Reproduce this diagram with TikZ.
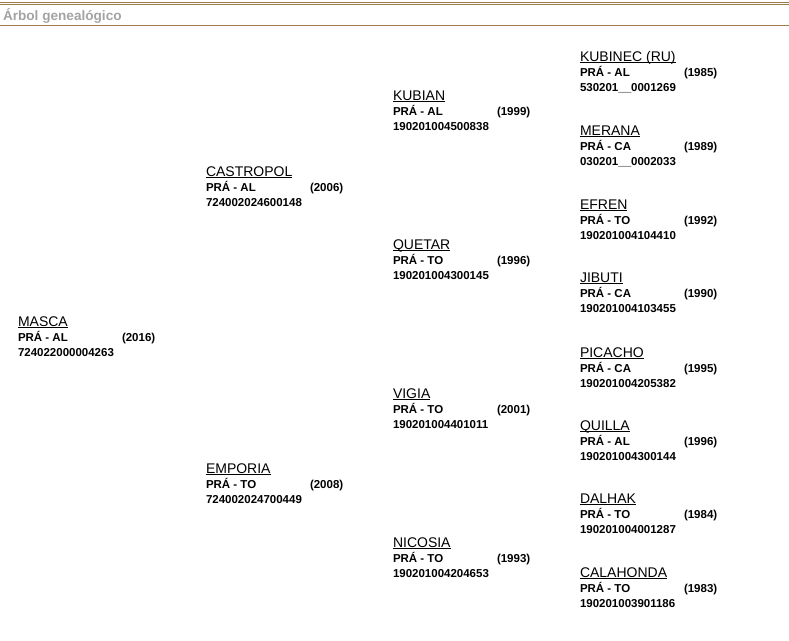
\documentclass[tikz,border=0pt]{standalone}
\usepackage{fontspec}
\setmainfont{Liberation Sans}
\usetikzlibrary{calc}

\definecolor{linea}{HTML}{9E7C4A}
\definecolor{gristit}{HTML}{A3A3A3}

% entry: id, x, y (baseline of name), name, sex/coat, year, register
\newcommand{\ficha}[7]{%
	\node[nombre] (#1) at (#2,#3) {\underline{\smash{#4}}};
	\node[datos] (#1-c) at (#2,#3+15) {PRÁ - #5};
	\node[datos] (#1-a) at (#2+104,#3+15) {(#6)};
	\node[datos] (#1-r) at (#2,#3+30) {#7};
}

\begin{document}
\begin{tikzpicture}[x=1pt,y=-1pt]
	\tikzstyle{every node}=[inner sep=0pt,outer sep=0pt,anchor=base west]
	\tikzstyle{nombre}=[font=\fontsize{14}{16}\selectfont]
	\tikzstyle{datos}=[font=\fontsize{11.5}{13}\selectfont\bfseries]
	
	\useasboundingbox (0,0) rectangle (789,640);
	
	% header
	\draw[linea, line width=1pt] (0,2.5) -- (789,2.5);
	\draw[linea, line width=1pt] (0,4.8) -- (789,4.8);
	\draw[linea, line width=1pt] (0,25.5) -- (789,25.5);
	\node[font=\fontsize{13.6}{15}\selectfont\bfseries, text=gristit] (titulo) at (3,20) {Árbol genealógico};
	
	% generation 0
	\ficha{masca}{18}{326}{MASCA}{AL}{2016}{724022000004263}
	
	% parents
	\ficha{castropol}{206}{176}{CASTROPOL}{AL}{2006}{724002024600148}
	\ficha{emporia}{206}{473}{EMPORIA}{TO}{2008}{724002024700449}
	
	% grandparents
	\ficha{kubian}{393}{100}{KUBIAN}{AL}{1999}{190201004500838}
	\ficha{quetar}{393}{249}{QUETAR}{TO}{1996}{190201004300145}
	\ficha{vigia}{393}{398}{VIGIA}{TO}{2001}{190201004401011}
	\ficha{nicosia}{393}{547}{NICOSIA}{TO}{1993}{190201004204653}
	
	% great-grandparents
	\ficha{kubinec}{580}{61}{KUBINEC (RU)}{AL}{1985}{530201\_\_0001269}
	\ficha{merana}{580}{135}{MERANA}{CA}{1989}{030201\_\_0002033}
	\ficha{efren}{580}{209}{EFREN}{TO}{1992}{190201004104410}
	\ficha{jibuti}{580}{282}{JIBUTI}{CA}{1990}{190201004103455}
	\ficha{picacho}{580}{357}{PICACHO}{CA}{1995}{190201004205382}
	\ficha{quilla}{580}{430}{QUILLA}{AL}{1996}{190201004300144}
	\ficha{dalhak}{580}{503}{DALHAK}{TO}{1984}{190201004001287}
	\ficha{calahonda}{580}{577}{CALAHONDA}{TO}{1983}{190201003901186}
	
\end{tikzpicture}
\end{document}
